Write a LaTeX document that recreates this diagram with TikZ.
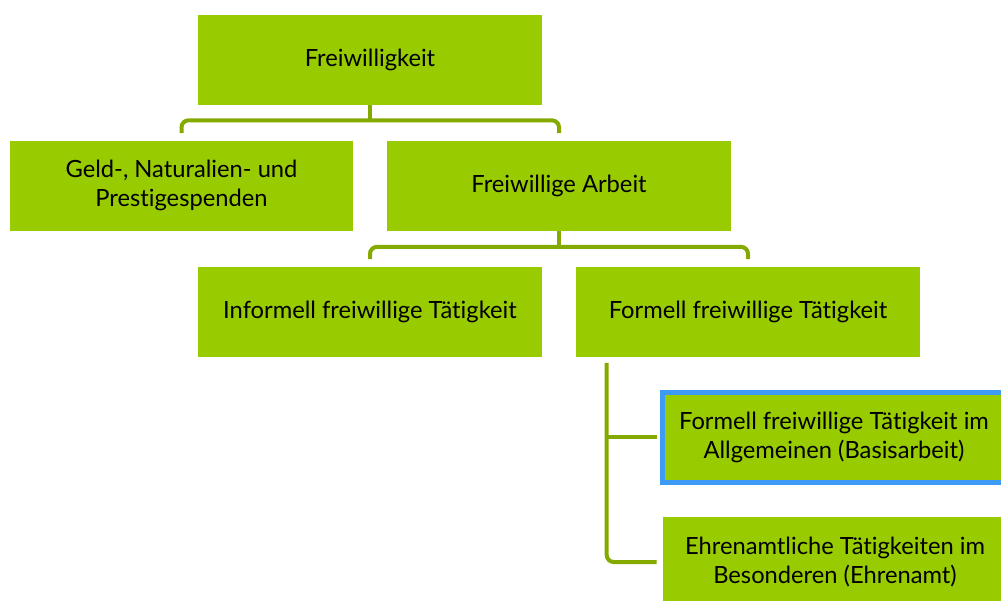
\documentclass[tikz,border=0pt]{standalone}
\usepackage{fontspec}
\setmainfont{Lato}[Ligatures=NoCommon]
\usepackage{tikz}
\usetikzlibrary{calc}
\definecolor{boxgreen}{HTML}{99CC00}
\definecolor{linkgreen}{HTML}{84AA00}
\definecolor{markblue}{HTML}{3D9BF5}
\tikzset{
    box/.style={fill=boxgreen, minimum width=6.88cm, minimum height=1.8cm,
        align=center, inner sep=0pt, font=\fontsize{13.5}{16.5}\selectfont},
    conn/.style={draw=linkgreen, line width=0.08cm, rounded corners=4pt}
}

\begin{document}
\begin{tikzpicture}[x=0.02cm, y=-0.02cm]
        \useasboundingbox (0,0) rectangle (1001,600);

        % Boxes of the tree
        \node[box] (root)    at (370, 60)    {Freiwilligkeit};
        \node[box] (spenden) at (181.5, 185.5) {Geld-, Naturalien- und\\Prestigespenden};
        \node[box] (arbeit)  at (559, 185.5) {Freiwillige Arbeit};
        \node[box] (inform)  at (370, 311.5) {Informell freiwillige Tätigkeit};
        \node[box] (formell) at (748, 311.5) {Formell freiwillige Tätigkeit};
        \node[box, draw=markblue, line width=0.1cm] (basis) at (834, 437)
            {Formell freiwillige Tätigkeit im\\Allgemeinen (Basisarbeit)};
        \node[box] (ehren)   at (835, 562)   {Ehrenamtliche Tätigkeiten im\\Besonderen (Ehrenamt)};

        % Bracket under Freiwilligkeit
        \draw[conn] (root.south) -- ++(0,15);
        \draw[conn] ($(spenden.north)+(0,-7)$) |- ($(root.south)+(0,15)$)
            -| ($(arbeit.north)+(0,-7)$);

        % Bracket under Freiwillige Arbeit
        \draw[conn] (arbeit.south) -- ++(0,16);
        \draw[conn] ($(inform.north)+(0,-7)$) |- ($(arbeit.south)+(0,16)$)
            -| ($(formell.north)+(0,-7)$);

        % Side branch of Formell freiwillige Taetigkeit
        \coordinate (fork) at ($(formell.south west)+(31,6)$);
        \draw[conn] (fork) |- ($(ehren.west)+(-6,0)$);
        \draw[conn] (fork |- basis.west) -- ($(basis.west)+(-3,0)$);

    \end{tikzpicture}
\end{document}
